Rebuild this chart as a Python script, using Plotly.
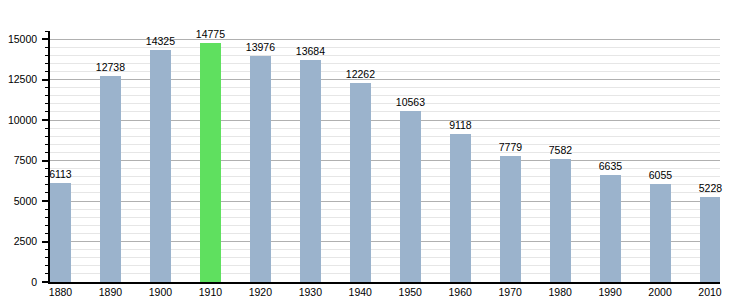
import plotly.graph_objects as go

years = [1880, 1890, 1900, 1910, 1920, 1930, 1940, 1950, 1960, 1970, 1980, 1990, 2000, 2010]
population = [6113, 12738, 14325, 14775, 13976, 13684, 12262, 10563, 9118, 7779, 7582, 6635, 6055, 5228]
highlight_year = 1910
base_color = "#9bb3cc"
highlight_color = "#5fe05f"
colors = [highlight_color if y == highlight_year else base_color for y in years]

fig = go.Figure(go.Bar(
    x=years, y=population, width=4.2,
    marker=dict(color=colors, line=dict(width=0)),
    text=[str(v) for v in population], textposition="outside",
    textangle=0, constraintext="none",
    textfont=dict(family="Liberation Sans, Arial, sans-serif", size=10.5, color="#000"),
    cliponaxis=False,
))

fig.update_layout(
    width=750, height=300,
    margin=dict(l=50, r=30, t=31, b=18, autoexpand=False),
    paper_bgcolor="white", plot_bgcolor="white",
    showlegend=False, bargap=0,
    font=dict(family="Liberation Sans, Arial, sans-serif", size=10.5, color="#000"),
)
fig.update_xaxes(
    range=[1877.9, 2012], tickvals=years, ticktext=[str(y) for y in years],
    showgrid=False, showline=True, linecolor="#000", linewidth=1.5,
    ticks="", ticklen=0, zeroline=False, fixedrange=True, automargin=False,
)
fig.update_yaxes(
    range=[0, 15500], tick0=0, dtick=2500, tickformat="d",
    showline=True, linecolor="#000", linewidth=1.5,
    ticks="outside", ticklen=6, tickcolor="#000", tickwidth=1.5,
    ticklabelstandoff=3,
    showgrid=True, gridcolor="#b0b0b0", gridwidth=1,
    minor=dict(dtick=500, ticks="outside", ticklen=3, tickcolor="#000", tickwidth=1,
               showgrid=True, gridcolor="#e6e6e6", gridwidth=1),
    zeroline=False, fixedrange=True, automargin=False,
)

fig.write_html("out.html")
